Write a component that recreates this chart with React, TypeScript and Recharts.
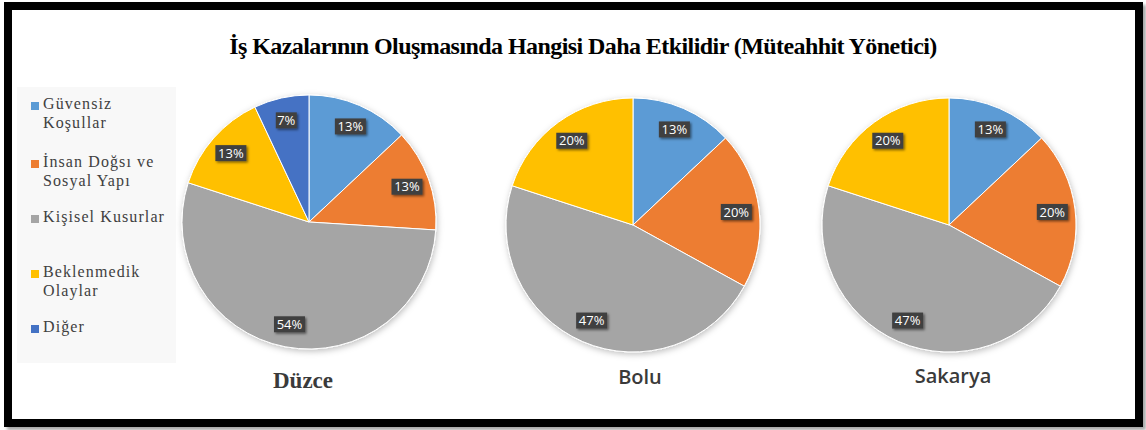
import React from 'react';
import { PieChart, Pie, Cell, Legend } from 'recharts';

const categories = [
  'Güvensiz Koşullar',
  'İnsan Doğsı ve Sosyal Yapı',
  'Kişisel Kusurlar',
  'Beklenmedik Olaylar',
  'Diğer',
];
const colors = ['#5B9BD5', '#ED7D31', '#A5A5A5', '#FFC000', '#4472C4'];
const duzceValues = [13, 13, 54, 13, 7];
const boluValues = [13, 20, 47, 20, 0];
const sakaryaValues = [13, 20, 47, 20, 0];
const cities = ['Düzce', 'Bolu', 'Sakarya'];
const title = 'İş Kazalarının Oluşmasında Hangisi Daha Etkilidir (Müteahhit Yönetici)';

const build = (vals: number[]) =>
  categories
    .map((name, i) => ({ name, value: vals[i], color: colors[i] }))
    .filter((d) => d.value > 0);

const duzceData = build(duzceValues);
const boluData = build(boluValues);
const sakaryaData = build(sakaryaValues);

const RAD = Math.PI / 180;

const renderLabel = (props: any) => {
  const { cx, cy, midAngle, outerRadius, value } = props;
  const r = outerRadius * 0.82;
  const x = cx + r * Math.cos(-midAngle * RAD);
  const y = cy + r * Math.sin(-midAngle * RAD);
  const text = `${value}%`;
  const w = text.length === 2 ? 21 : 31;
  const h = 16;
  return (
    <g>
      <rect x={x - w / 2} y={y - h / 2} width={w} height={h} fill="#404040" filter="url(#lblShadow)" />
      <text x={x} y={y} dy={4.6} textAnchor="middle" fill="#ffffff" fontSize={13} fontFamily="'Open Sans', sans-serif">
        {text}
      </text>
    </g>
  );
};

const LegendContent = (props: any) => {
  const seen = new Set<string>();
  const items = (props.payload || [])
    .filter((p: any) => {
      if (seen.has(p.value)) return false;
      seen.add(p.value);
      return true;
    })
    .sort((a: any, b: any) => categories.indexOf(a.value) - categories.indexOf(b.value));
  return (
    <div style={{ paddingTop: 7, paddingLeft: 14 }}>
      {items.map((p: any, i: number) => (
        <div key={p.value} style={{ height: i === 0 ? 57.5 : 55, display: 'flex', alignItems: 'flex-start' }}>
          <div style={{ width: 8, height: 8, background: p.color, marginTop: 8, marginRight: 4, flex: 'none' }} />
          <div
            style={{
              width: 128,
              fontFamily: "'Liberation Serif', 'Times New Roman', serif",
              fontSize: 16,
              letterSpacing: 1.1,
              lineHeight: '19px',
              color: '#404040',
            }}
          >
            {p.value}
          </div>
        </div>
      ))}
    </div>
  );
};

const pies = [
  { data: duzceData, cx: 309, cy: 222 },
  { data: boluData, cx: 633, cy: 225 },
  { data: sakaryaData, cx: 949, cy: 225 },
];

const cityStyles: React.CSSProperties[] = [
  { left: 303 - 100, top: 366, fontFamily: "'Liberation Serif', serif", fontWeight: 'bold', fontSize: 23 },
  { left: 640 - 100, top: 362, fontFamily: "'Open Sans', sans-serif", fontWeight: 600, fontSize: 20 },
  { left: 953 - 100, top: 361, fontFamily: "'Open Sans', sans-serif", fontWeight: 600, fontSize: 20 },
];

export default function App() {
  return (
    <div style={{ position: 'absolute', left: 0, top: 0, width: 1146, height: 430, background: '#ffffff', overflow: 'hidden' }}>
      <style>{`.recharts-pie { filter: url(#pieShadow); }`}</style>
      <svg width={0} height={0} style={{ position: 'absolute' }}>
        <defs>
          <filter id="pieShadow" x="-20%" y="-20%" width="140%" height="140%">
            <feDropShadow dx={1} dy={2} stdDeviation={3} floodColor="#000" floodOpacity={0.25} />
          </filter>
          <filter id="lblShadow" x="-30%" y="-30%" width="160%" height="160%">
            <feDropShadow dx={1.5} dy={1.5} stdDeviation={1} floodColor="#000" floodOpacity={0.5} />
          </filter>
        </defs>
      </svg>
      <div
        style={{
          position: 'absolute',
          left: 4,
          top: 2,
          width: 1139,
          height: 425,
          boxSizing: 'border-box',
          border: '8px solid #000',
          boxShadow: '3px 3px 3px rgba(0,0,0,0.35)',
        }}
      />
      <div
        style={{
          position: 'absolute',
          left: 583 - 500,
          width: 1000,
          top: 31,
          lineHeight: '30px',
          textAlign: 'center',
          fontFamily: "'Liberation Serif', 'Times New Roman', serif",
          fontWeight: 'bold',
          fontSize: 24,
          letterSpacing: -0.57,
          color: '#000',
          whiteSpace: 'nowrap',
        }}
      >
        {title}
      </div>
      <div style={{ position: 'absolute', left: 0, top: 0 }}>
        <PieChart width={1146} height={430} margin={{ top: 0, right: 0, bottom: 0, left: 0 }}>
          <Legend
            layout="vertical"
            align="center"
            verticalAlign="middle"
            content={<LegendContent />}
            wrapperStyle={{ position: 'absolute', left: 17, top: 87, width: 159, height: 276, background: '#f8f8f8' }}
          />
          {pies.map((p, k) => (
            <Pie
              key={k}
              data={p.data}
              dataKey="value"
              nameKey="name"
              cx={p.cx}
              cy={p.cy}
              outerRadius={127}
              startAngle={90}
              endAngle={-270}
              stroke="#ffffff"
              strokeWidth={1}
              label={renderLabel}
              labelLine={false}
              isAnimationActive={false}
            >
              {p.data.map((d) => (
                <Cell key={d.name} fill={d.color} />
              ))}
            </Pie>
          ))}
        </PieChart>
      </div>
      {cities.map((c, i) => (
        <div
          key={c}
          style={{
            position: 'absolute',
            width: 200,
            lineHeight: '30px',
            textAlign: 'center',
            color: '#3a3a3a',
            ...cityStyles[i],
          }}
        >
          {c}
        </div>
      ))}
    </div>
  );
}
